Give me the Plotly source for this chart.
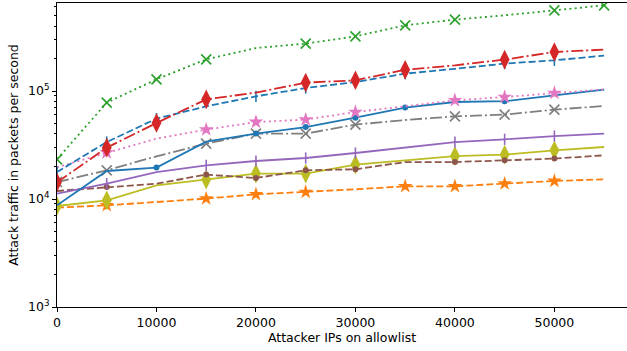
import plotly.graph_objects as go

x_ips = [0, 5000, 10000, 15000, 20000, 25000, 30000, 35000, 40000, 45000, 50000, 55000]

green_x = [23300, 78100, 128300, 196600, 250000, 274700, 321000, 405700, 458500, 502000, 558600, 621600]
red_d = [14280, 29900, 50550, 83750, 96600, 119600, 125600, 157100, 173000, 195300, 229700, 241700]
blue_dash = [17780, 33700, 55500, 72150, 89300, 106600, 121100, 144900, 160600, 179400, 192400, 212700]
pink_star = [19660, 26900, 36250, 43900, 51650, 54350, 63900, 72150, 82000, 88000, 95800, 103700]
blue_solid = [8740, 18170, 19530, 34000, 40330, 46400, 56700, 70200, 79100, 80500, 91200, 103000]
gray_x = [14370, 18440, 24850, 32580, 40330, 40330, 48860, 53900, 58300, 60440, 67260, 72600]
purple = [11220, 13890, 17780, 20510, 22480, 23970, 26660, 30100, 33700, 35700, 38300, 40330]
brown = [11860, 12920, 13890, 16820, 15650, 18440, 18840, 22000, 22000, 22800, 23660, 25390]
olive = [8610, 9720, 13390, 15130, 17190, 17190, 20820, 22800, 25000, 25760, 28250, 30300]
orange = [8320, 8740, 9380, 10090, 11050, 11610, 12300, 13110, 13110, 13890, 14680, 15220]

# x positions where each series shows a marker
mk_green = [0, 5000, 10000, 15000, 25000, 30000, 35000, 40000, 50000, 55000]
mk_red = [0, 5000, 10000, 15000, 25000, 30000, 35000, 45000, 50000]
mk_blue_dash = [0, 5000, 10000, 20000, 25000, 30000, 35000, 45000, 50000]
mk_pink = [5000, 15000, 20000, 25000, 30000, 40000, 45000, 50000]
mk_blue_solid = [10000, 20000, 25000, 30000, 35000, 45000]
mk_gray = [0, 5000, 15000, 20000, 25000, 30000, 40000, 45000, 50000]
mk_purple = [5000, 15000, 20000, 25000, 30000, 40000, 45000, 50000]
mk_brown = [5000, 15000, 20000, 25000, 30000, 40000, 45000, 50000]
mk_olive = [0, 5000, 15000, 20000, 25000, 30000, 40000, 45000, 50000]
mk_orange = [5000, 15000, 20000, 25000, 35000, 40000, 45000, 50000]

LW = 1.8
DASHED = "7px,3px"
DASHDOT = "12px,3px,2px,3px"
DOTTED = "2px,3.3px"

series = [
    # values, marks, color, dash, symbol, size, thin-style
    (orange, mk_orange, "#ff7f0e", DASHED, "star", 11, False),
    (olive, mk_olive, "#bcbd22", "solid", "diamond-tall", 14, False),
    (brown, mk_brown, "#8c564b", DASHED, "circle", 6, False),
    (purple, mk_purple, "#9467bd", "solid", "line-ns", 8, True),
    (gray_x, mk_gray, "#7f7f7f", DASHDOT, "x-thin", 10, True),
    (blue_solid, mk_blue_solid, "#1f77b4", "solid", "circle", 6, False),
    (pink_star, mk_pink, "#e377c2", DOTTED, "star", 11, False),
    (blue_dash, mk_blue_dash, "#1f77b4", DASHED, "line-ns", 8, True),
    (red_d, mk_red, "#d62728", DASHDOT, "diamond-tall", 14, False),
    (green_x, mk_green, "#2ca02c", DOTTED, "x-thin", 10, True),
]

fig = go.Figure()
for vals, marks, color, dash, sym, sz, thin in series:
    fig.add_trace(go.Scatter(
        x=x_ips, y=vals, mode="lines",
        line=dict(color=color, width=LW, dash=dash),
        showlegend=False, hoverinfo="skip",
    ))
    mx = [xv for xv in x_ips if xv in marks]
    my = [v for xv, v in zip(x_ips, vals) if xv in marks]
    marker = dict(symbol=sym, size=sz, color=color, opacity=1)
    marker["line"] = dict(color=color, width=1.6 if thin else 0)
    fig.add_trace(go.Scatter(
        x=mx, y=my, mode="markers", marker=marker,
        showlegend=False, hoverinfo="skip",
    ))

minor_vals = [m * 10 ** e for e in range(3, 6) for m in range(2, 10)]

font = dict(family="DejaVu Sans, sans-serif", size=12.5, color="black")

fig.update_layout(
    width=627, height=351,
    margin=dict(l=57, r=0, t=3, b=44),
    paper_bgcolor="white", plot_bgcolor="white",
    font=font,
    xaxis=dict(
        range=[0, 57300], showgrid=False, zeroline=False, automargin=False,
        showline=True, linecolor="black", linewidth=1, mirror=True,
        ticks="outside", ticklen=4, tickwidth=1, tickcolor="black",
        tickvals=[0, 10000, 20000, 30000, 40000, 50000],
        ticktext=["0", "10000", "20000", "30000", "40000", "50000"],
        title=dict(text="Attacker IPs on allowlist", standoff=3, font=font),
    ),
    yaxis=dict(
        type="log", range=[3, 5.815], showgrid=False, zeroline=False, automargin=False,
        showline=True, linecolor="black", linewidth=1, mirror=False,
        ticks="outside", ticklen=4, tickwidth=1, tickcolor="black",
        tickvals=[1e3, 1e4, 1e5],
        ticktext=["10<sup>3</sup>", "10<sup>4</sup>", "10<sup>5</sup>"],
        minor=dict(tickmode="array", tickvals=minor_vals, ticks="outside",
                   ticklen=2, tickwidth=0.8, tickcolor="black", showgrid=False),
        title=dict(text="Attack traffic in packets per second", standoff=6, font=font),
    ),
)

fig.write_html(
    "out.html",
    config={"displayModeBar": False},
    post_script="document.body.style.margin='0';document.body.style.overflow='hidden';",
)
